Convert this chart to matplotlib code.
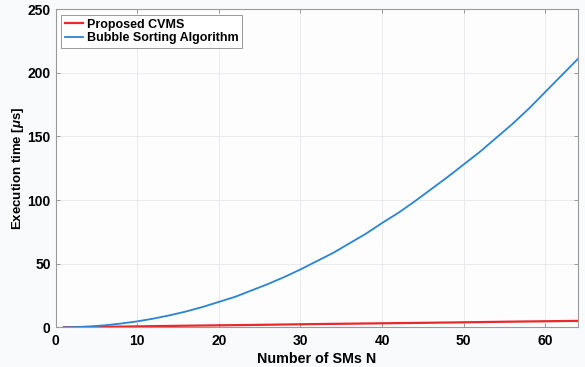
import matplotlib
matplotlib.use('Agg')
import matplotlib.pyplot as plt

plt.rcParams['font.family'] = ['Liberation Sans', 'DejaVu Sans']
plt.rcParams['mathtext.fontset'] = 'custom'
plt.rcParams['mathtext.it'] = 'Liberation Sans:italic:bold'
plt.rcParams['mathtext.rm'] = 'Liberation Sans:bold'

# values
n_bubble = [1, 2, 4, 6, 8, 10, 12, 14, 16, 18, 20, 22, 24, 26, 28, 30, 32,
            34, 36, 38, 40, 42, 44, 46, 48, 50, 52, 54, 56, 58, 60, 62, 64]
t_bubble = [0, 0.1, 0.6, 1.6, 3, 4.7, 6.9, 9.5, 12.5, 16, 20, 24, 29, 34, 39.5, 45.5, 52,
            58.5, 66, 73.5, 82, 90, 99, 108.5, 118, 128, 138, 149, 160, 172, 185, 198, 211]

n_cvms = [1, 8, 16, 24, 32, 40, 48, 56, 64]
t_cvms = [0.1, 0.6, 1.3, 1.9, 2.6, 3.2, 3.8, 4.5, 5.1]

x_ticks = [0, 10, 20, 30, 40, 50, 60]
y_ticks = [0, 50, 100, 150, 200, 250]

fig = plt.figure(figsize=(5.85, 3.67), dpi=100, facecolor='#f9fafc')
ax = fig.add_axes([0.095, 0.108, 0.893, 0.867])
ax.set_facecolor('#fdfdfe')

ax.plot(n_cvms, t_cvms, color='#e8282a', lw=1.6, label='Proposed CVMS')
ax.plot(n_bubble, t_bubble, color='#2a83d3', lw=1.3, label='Bubble Sorting Algorithm')

ax.set_xlim(0, 64)
ax.set_ylim(0, 250)
ax.set_xticks(x_ticks)
ax.set_yticks(y_ticks)
ax.grid(True, color='#e6e8ec', lw=0.6)
ax.tick_params(direction='in', top=True, right=True, length=3, width=0.6,
               color='#8a8a8a', labelsize=10)
ax.tick_params(axis='x', pad=5)
ax.tick_params(axis='y', pad=3.5)
for lbl in ax.get_xticklabels() + ax.get_yticklabels():
    lbl.set_fontweight('bold')
for s in ax.spines.values():
    s.set_color('#9a9a9a')
    s.set_linewidth(0.8)

ax.set_xlabel('Number of SMs N', fontsize=10.3, fontweight='bold', labelpad=3)
ax.set_ylabel(r'Execution time [$\mu$s]', fontsize=9.5, fontweight='bold', labelpad=1)

leg = ax.legend(loc='upper left', handlelength=1.45, handletextpad=0.3,
                borderpad=0.3, labelspacing=0.15, fancybox=False,
                edgecolor='#9a9a9a', framealpha=1, borderaxespad=0.45,
                prop={'weight': 'bold', 'size': 9})
leg.get_frame().set_linewidth(0.7)

fig.savefig('out.png', dpi=100, facecolor=fig.get_facecolor())
